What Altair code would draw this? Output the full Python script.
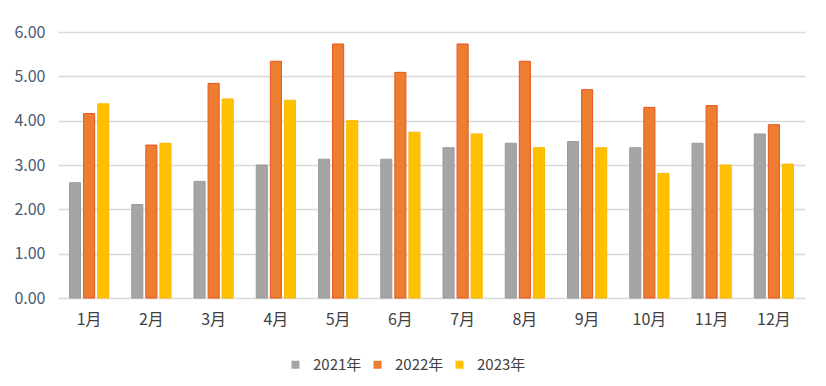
import altair as alt
import pandas as pd

months = ["1月", "2月", "3月", "4月", "5月", "6月", "7月", "8月", "9月", "10月", "11月", "12月"]
series = ["2021年", "2022年", "2023年"]
v2021 = [2.60, 2.11, 2.63, 3.00, 3.13, 3.13, 3.39, 3.49, 3.53, 3.39, 3.49, 3.70]
v2022 = [4.16, 3.45, 4.84, 5.34, 5.73, 5.09, 5.73, 5.34, 4.70, 4.30, 4.34, 3.91]
v2023 = [4.38, 3.49, 4.49, 4.46, 4.00, 3.74, 3.70, 3.39, 3.39, 2.81, 3.00, 3.02]
colors = ["#A5A5A5", "#ED7D31", "#FFC000"]
strokes = ["#9A9A9A", "#E8551E", "#F8B800"]

rows = []
for s, vals in zip(series, [v2021, v2022, v2023]):
    for m, v in zip(months, vals):
        rows.append({"month": m, "series": s, "value": v})
df = pd.DataFrame(rows)

FONT = "Noto Sans CJK SC"

chart = alt.Chart(df).mark_bar(strokeWidth=1).encode(
    x=alt.X("month:N", sort=months, title=None,
            scale=alt.Scale(paddingInner=0.37, paddingOuter=0.185),
            axis=alt.Axis(labelAngle=0, labelFont=FONT, labelFontSize=16,
                          labelColor="#404040", labelPadding=13, ticks=False,
                          domain=False, grid=False)),
    xOffset=alt.XOffset("series:N", sort=series,
                        scale=alt.Scale(paddingInner=0.214, paddingOuter=0)),
    y=alt.Y("value:Q", title=None,
            scale=alt.Scale(domain=[0, 6], nice=False),
            axis=alt.Axis(values=[0, 1, 2, 3, 4, 5, 6], format=".2f",
                          labelFont=FONT, labelFontSize=16, labelColor="#4A5A72",
                          labelPadding=13, ticks=False, domain=False,
                          gridColor="#D9D9D9", gridWidth=1.5)),
    color=alt.Color("series:N", sort=series,
                    scale=alt.Scale(domain=series, range=colors),
                    legend=alt.Legend(title=None, orient="none", direction="horizontal",
                                      legendX=230, legendY=325,
                                      symbolType="square", symbolSize=64,
                                      symbolStrokeWidth=0,
                                      labelFont=FONT, labelFontSize=15,
                                      labelColor="#404040", labelOffset=10,
                                      columnPadding=8)),
    stroke=alt.Stroke("series:N", sort=series,
                      scale=alt.Scale(domain=series, range=strokes), legend=None),
).properties(
    width=747, height=266,
    background="white",
    autosize=alt.AutoSizeParams(type="none"),
    padding={"left": 50, "top": 24, "right": 13, "bottom": 80},
).configure_view(stroke=None)

chart.save("out.html", embed_options={"renderer": "svg", "actions": False})
